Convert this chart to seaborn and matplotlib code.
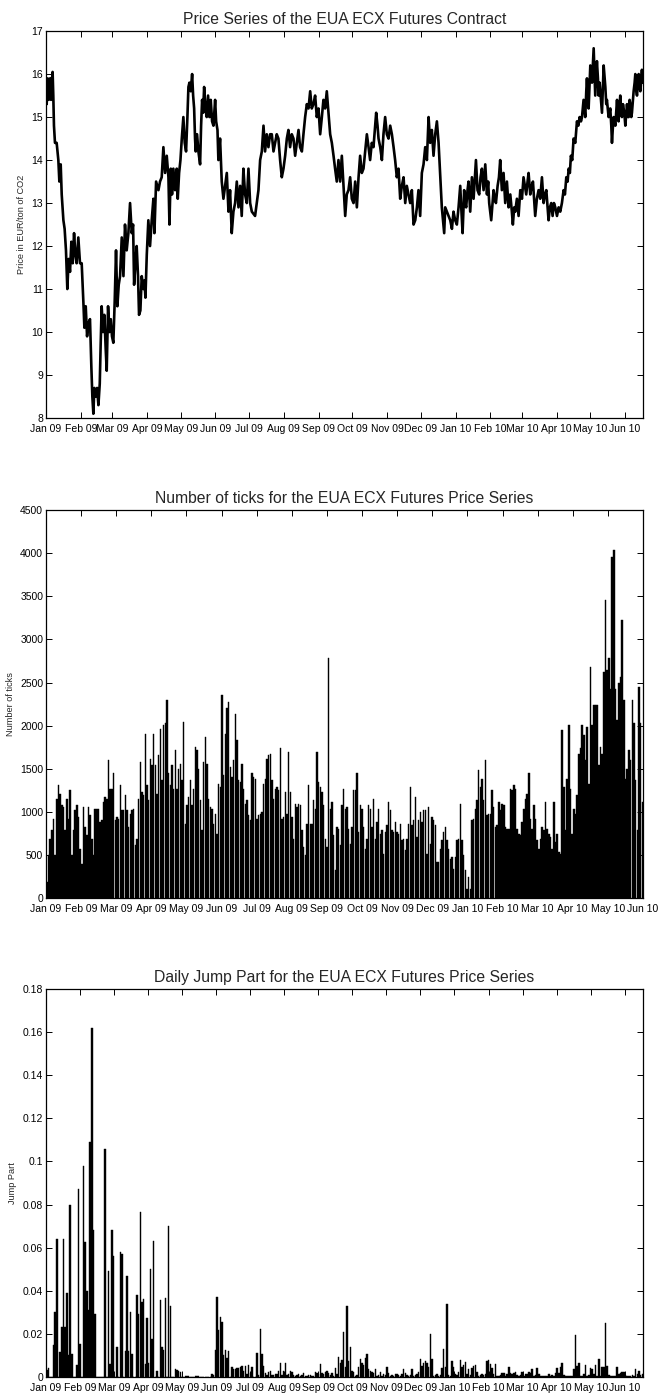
import numpy as np
import pandas as pd
import matplotlib
matplotlib.use("Agg")
import matplotlib.pyplot as plt
import seaborn as sns
from matplotlib.ticker import FormatStrFormatter

# ---------------- data ----------------
month_labels = ["Jan 09", "Feb 09", "Mar 09", "Apr 09", "May 09", "Jun 09", "Jul 09",
                "Aug 09", "Sep 09", "Oct 09", "Nov 09", "Dec 09", "Jan 10", "Feb 10",
                "Mar 10", "Apr 10", "May 10", "Jun 10"]

# price series: days since 2009-01-01 and price in EUR/ton
price_day = [0.5, 0.6, 1.5, 2.4, 3.6, 4.5, 5.4, 5.9, 6.5, 7.1, 8.0, 9.5, 11.0, 11.9, 13.1, 14.0,
             15.5, 16.6, 17.8, 19.0, 20.2, 21.4, 22.6, 23.8, 25.0, 26.2, 27.3, 28.8, 30.3, 31.8,
             33.3, 34.2, 35.4, 36.6, 37.7, 39.2, 40.4, 41.3, 42.2, 43.1, 44.3, 45.5, 46.7, 47.9,
             48.7, 49.6, 50.8, 52.0, 53.2, 54.1, 55.3, 56.5, 57.7, 58.8, 60.0, 61.2, 62.4, 63.6,
             64.8, 66.0, 67.5, 69.0, 70.4, 71.9, 73.4, 74.9, 76.4, 77.6, 78.5, 79.7, 80.8, 82.0,
             82.9, 84.1, 85.3, 86.8, 87.7, 88.6, 89.8, 91.2, 92.7, 94.2, 95.7, 96.6, 98.1, 100.2,
             101.6, 103.1, 104.6, 106.1, 107.6, 109.1, 110.0, 111.2, 112.3, 113.5, 115.0, 116.5,
             117.4, 118.6, 119.8, 121.0, 122.4, 123.6, 124.8, 126.0, 126.9, 127.8, 129.0, 130.2,
             131.1, 132.0, 132.8, 133.4, 134.6, 135.8, 137.3, 138.2, 139.1, 140.0, 140.9, 142.1,
             143.2, 144.4, 145.6, 146.8, 148.0, 149.2, 150.7, 151.6, 152.8, 153.6, 155.1, 156.6,
             158.1, 159.6, 161.1, 162.6, 164.0, 165.5, 167.0, 168.5, 170.0, 171.5, 173.0, 174.4,
             175.9, 177.4, 178.9, 180.4, 181.9,
             183.4, 186.3, 187.8, 189.3, 190.8, 192.3, 193.8, 195.2, 196.7, 198.2, 199.7, 201.2,
             202.7, 204.2, 205.6, 207.1, 208.6, 210.1, 211.6, 213.1, 214.6, 216.0, 217.5, 219.0,
             220.5, 222.0, 223.5, 225.0, 226.4, 228.0, 229.4, 230.9, 232.4, 233.9, 235.4, 236.8,
             238.3, 239.8, 241.3, 242.8, 244.3, 245.8, 247.2, 248.7, 250.2, 251.7, 253.2, 254.7,
             256.2, 257.6, 259.1, 260.6, 262.1, 263.6, 265.1, 266.6, 268.0, 269.5, 271.0, 272.5,
             274.0, 275.5, 277.0, 278.5, 279.9, 281.4, 282.9, 284.4, 285.9, 287.4, 288.8, 290.3,
             291.8, 293.3, 294.2, 295.4, 296.3, 297.8, 299.3, 300.7, 302.2, 303.7, 305.2, 306.7,
             308.2, 309.7, 311.1, 312.6, 314.1, 315.6, 317.1, 318.6, 320.1, 321.5, 323.0, 324.5,
             326.0, 327.5, 329.0, 330.5, 331.9, 333.4, 334.9, 336.4, 337.9, 339.4, 340.9, 342.3,
             343.8, 345.3, 346.8, 348.3, 349.8, 351.3, 352.7, 354.8,
             355.7, 357.2, 358.7, 360.2, 361.7, 363.1, 364.6, 366.1, 367.6, 369.1, 370.0, 371.2,
             372.6, 373.5, 374.4, 375.6, 376.5, 378.0, 379.5, 381.0, 382.2, 383.1, 384.5, 386.0,
             387.2, 388.4, 389.9, 391.4, 392.9, 394.0, 394.9, 396.7, 397.9, 398.8, 400.0, 400.9,
             402.4, 403.6, 404.7, 406.2, 407.7, 409.2, 410.7, 412.2, 413.7, 415.1, 416.0, 417.2,
             418.1, 419.6, 421.1, 422.6, 424.1, 425.5, 426.7, 427.9, 429.1, 430.0, 431.5, 432.7,
             433.9, 435.1, 435.9, 437.4, 438.9, 440.4, 441.9, 443.4, 444.6, 445.8, 446.9, 447.8,
             449.0, 450.2, 451.4, 452.6, 453.8, 455.3, 456.8, 458.2, 459.7, 461.2, 462.4, 463.6,
             464.8, 465.7, 466.8, 467.7, 468.9, 470.1, 471.6, 473.1, 474.3, 475.5, 476.7, 477.6,
             479.0, 480.5, 481.4, 482.0, 482.9, 483.5, 484.4, 485.0, 485.9, 486.5, 487.4, 488.0,
             488.8, 489.4, 490.3, 490.9, 491.8, 492.4, 493.3, 493.9, 494.8, 495.4, 496.3, 496.9,
             497.8, 498.4, 499.2, 499.8, 501.3, 502.8, 503.7, 504.3, 505.2, 505.8, 507.3, 508.8,
             509.6, 510.2, 511.1, 511.7, 512.6, 513.2, 514.1, 514.7, 515.6, 516.2, 517.1, 517.7,
             518.6, 519.2, 520.0, 520.6, 521.5, 522.1, 523.0, 523.6, 524.5, 525.1, 526.0, 526.6,
             527.5, 528.1, 528.9, 529.6, 530.4, 531.0, 531.6]
price_eur = [15.8, 15.3, 15.9, 15.4, 15.9, 15.4, 15.9, 16.05, 15.5, 14.8, 14.4, 14.4, 14.0, 13.5, 13.9, 13.2,
             12.6, 12.4, 11.9, 11.0, 11.7, 11.4, 12.1, 11.6, 12.3, 11.8, 11.6, 12.2, 11.6, 11.6,
             10.7, 10.1, 10.6, 9.9, 10.2, 10.3, 9.2, 8.5, 8.1, 8.7, 8.5, 8.7, 8.3, 8.8,
             9.7, 10.6, 10.0, 10.4, 9.6, 9.1, 10.6, 10.0, 10.3, 9.9, 9.75, 10.7, 11.9, 10.6,
             11.1, 11.3, 12.2, 11.3, 12.5, 11.9, 12.3, 13.0, 12.3, 12.5, 11.1, 11.6, 12.0, 11.3,
             10.4, 10.5, 11.3, 11.0, 11.2, 10.8, 11.8, 12.6, 12.0, 12.6, 13.1, 12.3, 13.5, 13.3,
             13.5, 13.6, 14.3, 13.7, 14.1, 13.6, 12.5, 13.8, 13.2, 13.8, 13.3, 13.8,
             13.1, 13.7, 14.0, 14.5, 15.0, 14.4, 14.2, 15.0, 15.7, 15.8, 15.6, 16.0,
             15.5, 15.2, 14.5, 14.2, 14.6, 14.2, 13.9, 14.8, 15.4, 15.1, 15.7, 15.2,
             15.0, 15.5, 15.0, 15.4, 14.9, 14.8, 15.4, 14.9, 14.7, 14.0, 14.5, 13.5,
             13.1, 13.4, 13.7, 12.8, 13.3, 12.3, 12.8, 13.0, 13.5, 12.9, 13.4, 12.7,
             13.8, 13.2, 13.0, 13.8, 13.0,
             12.8, 12.7, 13.0, 13.3, 14.0, 14.2, 14.8, 14.2, 14.6, 14.3, 14.6, 14.6,
             14.2, 14.4, 14.6, 14.5, 14.0, 13.6, 13.8, 14.1, 14.5, 14.7, 14.3, 14.6,
             14.5, 14.1, 14.4, 14.7, 14.3, 14.2, 14.6, 15.0, 15.3, 15.2, 15.6, 15.2,
             15.3, 15.5, 15.0, 15.2, 14.6, 15.0, 15.4, 15.2, 15.6, 15.1, 14.6, 14.4,
             14.1, 13.8, 13.5, 14.0, 13.5, 14.1, 13.4, 12.7, 13.2, 13.3, 13.6, 13.1,
             13.0, 13.5, 12.9, 13.6, 14.1, 13.7, 13.8, 14.2, 14.6, 14.3, 14.0, 14.4,
             14.3, 14.8, 15.1, 14.8, 14.5, 14.3, 14.0, 14.6, 15.0, 14.6, 14.5, 14.8,
             14.6, 14.3, 14.0, 13.6, 13.8, 13.1, 13.4, 13.6, 13.0, 13.4, 13.2, 13.0,
             13.3, 12.5, 12.6, 12.9, 13.3, 12.7, 13.7, 13.9, 14.3, 14.0, 15.0, 14.4,
             14.7, 14.1, 14.6, 14.9, 14.4, 13.6, 12.9, 12.3,
             12.9, 12.8, 12.7, 12.6, 12.4, 12.8, 12.6, 12.5, 12.9, 13.4, 12.9, 12.3,
             13.3, 13.0, 12.9, 13.3, 13.5, 12.8, 13.6, 13.1, 13.6, 14.0, 13.3, 13.2,
             13.6, 13.8, 13.3, 13.9, 13.2, 13.5, 13.0, 12.6, 13.0, 13.3, 13.1, 13.0,
             13.4, 13.6, 14.0, 13.3, 13.7, 13.0, 13.5, 12.9, 13.2, 12.8, 12.5, 12.9,
             12.8, 13.1, 12.7, 13.3, 13.1, 13.6, 13.4, 13.2, 13.5, 13.7, 13.2, 13.4,
             13.5, 13.0, 12.7, 13.1, 13.3, 13.1, 13.6, 13.0, 13.2, 13.3, 12.9, 12.6,
             12.9, 13.0, 12.7, 13.0, 12.9, 12.7, 12.9, 12.8, 13.0, 13.3, 13.2, 13.6,
             13.5, 13.8, 13.7, 14.1, 14.0, 14.5, 14.4, 14.9, 14.8, 15.0, 14.9, 15.0,
             15.4, 15.0, 15.6, 15.9, 15.4, 15.2, 15.8, 16.2, 16.0, 15.8, 16.3, 16.6,
             16.0, 15.5, 16.0, 16.3, 15.9, 15.5, 15.8, 15.6, 15.3, 15.1, 15.8, 16.2,
             15.9, 15.7, 15.3, 15.4, 15.0, 15.2, 14.8, 14.4, 14.8, 15.0, 14.8, 15.4,
             15.0, 14.9, 15.3, 15.5, 15.1, 15.0, 15.3, 15.2, 15.0, 14.8, 15.1, 15.3,
             15.0, 15.0, 15.4, 15.3, 15.0, 15.1, 15.4, 15.6, 15.8, 16.0, 15.6, 15.5,
             15.8, 16.0, 15.7, 15.6, 15.9, 16.1, 15.8]

# number of ticks per trading day
n_ticks = [185, 495, 690, 785, 920, 495, 1150, 1310, 1210, 1075,
           1055, 785, 1150, 920, 1250, 495, 785, 1020, 1075, 940,
           570, 400, 1055, 825, 730, 1055, 960, 690, 495, 1035,
           1035, 1035, 880, 900, 1115, 1170, 1150, 1605, 1270, 1270,
           1445, 900, 940, 920, 1310, 1020, 1020, 1190, 1020, 825,
           980, 1020, 1035, 610, 690, 1150, 1580, 1230, 1190, 1905,
           1310, 1135, 1615, 1540, 1905, 1540, 1210, 1655, 1965, 1365,
           2005, 2025, 2300, 1445, 1310, 1540, 1270, 1715, 1270, 1500,
           1560, 1365, 2045, 860, 1075, 1170, 1365, 1075, 1270, 1750,
           1720, 1500, 1135, 785, 1580, 1870, 1560, 1150, 1055, 1035,
           860, 980, 745, 1325, 1290, 2350, 1425, 1905, 2210, 2275,
           1520, 1405, 1600, 2140, 1830, 1365, 1345, 1560, 1270, 1095,
           1135, 960, 900, 1445, 1405, 1385, 920, 960, 980, 1000,
           1325, 1385, 1615, 1655, 1675, 1365, 1150, 1270, 1290, 1250,
           1735, 920, 940, 1230, 980, 1695, 1230, 940, 690, 1095,
           1055, 1095, 1075, 785, 590, 495, 860, 1310, 860, 860,
           1135, 1035, 1695, 1345, 1290, 1230, 1075, 690, 590, 2790,
           1035, 1115, 730, 320, 825, 805, 610, 1075, 1270, 1035,
           1055, 805, 630, 825, 1250, 1250, 1445, 765, 1075, 1035,
           825, 570, 690, 1075, 1035, 825, 1150, 690, 880, 1035,
           745, 785, 515, 765, 845, 1115, 1020, 785, 765, 880,
           765, 745, 860, 670, 690, 555, 690, 860, 1290, 845,
           900, 1170, 710, 900, 1000, 880, 1020, 1020, 515, 1055,
           630, 940, 900, 845, 420, 420, 570, 670, 765, 825,
           670, 570, 455, 475, 340, 475, 670, 690, 1095, 670,
           495, 320, 110, 245, 110, 900, 920, 1035, 1135, 1480,
           1290, 1385, 1135, 1600, 960, 980, 980, 1250, 1055, 825,
           845, 1115, 1020, 1095, 1075, 825, 805, 805, 1270, 1250,
           1310, 1270, 805, 745, 730, 880, 1035, 1150, 1210, 1445,
           920, 805, 1075, 920, 670, 570, 690, 825, 785, 1115,
           805, 745, 710, 570, 1115, 650, 745, 535, 515, 1945,
           1290, 785, 1385, 2005, 1270, 745, 1035, 980, 1190, 1675,
           1735, 2005, 1890, 1600, 1985, 1325, 2680, 2005, 2235, 2235,
           2235, 1540, 1750, 1675, 2625, 3455, 2640, 2780, 2430, 3960,
           4035, 2430, 2060, 2490, 2565, 3225, 2295, 1385, 1500, 1715,
           1600, 2295, 2025, 1365, 785, 2450, 2025, 1115]

# daily jump part
jump_part = [0.0034, 0.004, 0, 0, 0.015, 0.030, 0.064, 0, 0.0115, 0.023,
             0.064, 0.023, 0.039, 0.010, 0.080, 0.0105, 0, 0, 0.0055, 0.087,
             0.0155, 0, 0.098, 0.0625, 0.040, 0.031, 0.109, 0.162, 0.068, 0.029,
             0, 0, 0, 0, 0, 0.106, 0, 0.049, 0.006, 0.068,
             0.056, 0, 0.014, 0, 0.058, 0.057, 0, 0.012, 0.047, 0.012,
             0.030, 0.0105, 0, 0, 0.038, 0.029, 0.0765, 0.035, 0.036, 0.006,
             0.0275, 0.0065, 0.050, 0.0175, 0.063, 0, 0.003, 0, 0.0355, 0.014,
             0.0125, 0.0365, 0, 0.070, 0.033, 0, 0, 0.0035, 0.0032, 0.003,
             0.0025, 0, 0, 0.0003, 0.0004, 0.0003, 0.0001, 0.0001, 0.0001, 0.0004,
             0.0003, 0.0004, 0.0002, 0.0001, 0.0001, 0.0001, 0.0001, 0.0001, 0.0001, 0.0015,
             0.001, 0.0125, 0.037, 0.022, 0.028, 0.0255, 0.010, 0.0125, 0.009, 0.012,
             0, 0.0045, 0.0038, 0.0035, 0.004, 0.004, 0.0045, 0.005, 0.003, 0.005,
             0.0015, 0.0055, 0.002, 0.0045, 0, 0, 0.011, 0.001, 0.0225, 0.0105,
             0.005, 0.002, 0.001, 0.0025, 0.003, 0.001, 0.001, 0.0015, 0.0015, 0.003,
             0.0065, 0.001, 0.003, 0.0065, 0.001, 0.0015, 0.003, 0.0025, 0.001, 0.0005,
             0.001, 0.0015, 0.0005, 0.001, 0.002, 0.0005, 0.0005, 0.001, 0.001, 0.0005,
             0.0005, 0.0025, 0.002, 0.0015, 0.006, 0.002, 0.0015, 0.0025, 0.003, 0.002,
             0.001, 0.002, 0.0005, 0.004, 0.0015, 0.0095, 0.0065, 0.008, 0.021, 0.0045,
             0.033, 0.0075, 0.014, 0.003, 0.0025, 0.0005, 0.001, 0.0045, 0.0085, 0.0065,
             0.0055, 0.009, 0.0105, 0.0035, 0.003, 0.0025, 0.002, 0.0035, 0.0005, 0.001,
             0.0025, 0.0005, 0.0015, 0.001, 0.0045, 0.002, 0.0005, 0.001, 0.0005, 0.0015,
             0.0015, 0.001, 0.0005, 0.0015, 0.0035, 0.002, 0.001, 0.0005, 0.001, 0.0035,
             0.0005, 0.001, 0.0015, 0.0025, 0.0085, 0.005, 0.0065, 0.0075, 0.0065, 0.0045,
             0.020, 0.0085, 0.0005, 0.001, 0.0015, 0.0005, 0.001, 0.004, 0.013, 0.0045,
             0.034, 0.001, 0.0005, 0.0075, 0.0045, 0.0015, 0.001, 0.0025, 0.008, 0.0045,
             0.0055, 0.007, 0.0015, 0.0035, 0.001, 0.004, 0.005, 0.0055, 0.0025, 0.0005,
             0.001, 0.0015, 0.001, 0.0015, 0.0075, 0.008, 0.006, 0.004, 0.0015, 0.006,
             0.0005, 0.0005, 0.001, 0.002, 0.002, 0.0005, 0.0015, 0.0045, 0.002, 0.0015,
             0.002, 0.0025, 0.001, 0.0005, 0.001, 0.0025, 0.0005, 0.0015, 0.0015, 0.0025,
             0.002, 0.0035, 0.0005, 0.001, 0.004, 0.0015, 0.0005, 0.0005, 0.0005, 0.0005,
             0.0005, 0.0015, 0.0005, 0.001, 0.0005, 0.002, 0.004, 0.002, 0.0045, 0.0065,
             0.001, 0.0005, 0.0005, 0.0005, 0.0005, 0.0005, 0.0035, 0.0195, 0.005, 0.0065,
             0.0005, 0.0005, 0.0015, 0.0055, 0.0005, 0.001, 0.004, 0.0035, 0.0015, 0.0055,
             0.0005, 0.0085, 0.0005, 0.0045, 0.0045, 0.025, 0.005, 0.001, 0.0005, 0.0005,
             0.0005, 0.0005, 0.0045, 0.0015, 0.002, 0.0025, 0.0025, 0.001, 0.0005, 0.0005,
             0.0005, 0.001, 0.0005, 0.0035, 0.0015, 0.003, 0.001, 0.0015]

# ---------------- style ----------------
sns.set_theme(style="ticks")
plt.rcParams["font.family"] = ["Liberation Sans", "DejaVu Sans"]
plt.rcParams["axes.linewidth"] = 0.9
plt.rcParams["xtick.direction"] = "in"
plt.rcParams["ytick.direction"] = "in"

FS_TICK = 7.5
FS_TITLE = 11.3
FS_LABEL = 6.6

fig = plt.figure(figsize=(6.59, 13.93), dpi=100)
ax1 = fig.add_axes([0.0698, 0.6999, 0.9060, 0.2778])
ax2 = fig.add_axes([0.0698, 0.3553, 0.9060, 0.2785])
ax3 = fig.add_axes([0.0698, 0.01149, 0.9060, 0.2785])


def style_axis(ax):
    for s in ax.spines.values():
        s.set_visible(True)
        s.set_color("black")
        s.set_linewidth(0.9)
    ax.tick_params(axis="both", which="major", direction="in", top=True, right=True,
                   length=4, width=0.7, labelsize=FS_TICK, colors="black")
    ax.tick_params(axis="x", pad=4)
    ax.tick_params(axis="y", pad=2)
    ax.set_facecolor("white")


# ---- Panel 1: price series ----
df_price = pd.DataFrame({"day": price_day, "price": price_eur})
sns.lineplot(data=df_price, x="day", y="price", ax=ax1, color="black",
             linewidth=1.9, sort=False)
month_starts = pd.date_range("2009-01-01", periods=len(month_labels), freq="MS")
month_days = [(d - pd.Timestamp("2009-01-01")).days for d in month_starts]
ax1.set_xlim(0, 532)
ax1.set_ylim(8, 17)
ax1.set_xticks(month_days)
ax1.set_xticklabels(month_labels)
ax1.set_yticks(range(8, 18))
ax1.set_xlabel("")
ax1.set_ylabel("Price in EUR/ton of CO2", fontsize=FS_LABEL, labelpad=4)
ax1.set_title("Price Series of the EUA ECX Futures Contract", fontsize=FS_TITLE, pad=5)
style_axis(ax1)

# ---- Panel 2: number of ticks ----
n2 = len(n_ticks)
df_ticks = pd.DataFrame({"idx": np.arange(1, n2 + 1), "ticks": n_ticks})
sns.barplot(data=df_ticks, x="idx", y="ticks", ax=ax2, native_scale=True,
            color="black", width=0.85, edgecolor="black", linewidth=0.3,
            errorbar=None, saturation=1)
ax2.set_xlim(0.5, n2 + 0.5)
ax2.set_ylim(0, 4500)
ax2.set_xticks(np.linspace(0.5, n2 + 0.5, len(month_labels)))
ax2.set_xticklabels(month_labels)
ax2.set_yticks(range(0, 4501, 500))
ax2.set_xlabel("")
ax2.set_ylabel("Number of ticks", fontsize=FS_LABEL, labelpad=4)
ax2.set_title("Number of ticks for the EUA ECX Futures Price Series", fontsize=FS_TITLE, pad=5)
style_axis(ax2)

# ---- Panel 3: jump part ----
n3 = len(jump_part)
df_jump = pd.DataFrame({"idx": np.arange(1, n3 + 1), "jump": jump_part})
sns.barplot(data=df_jump, x="idx", y="jump", ax=ax3, native_scale=True,
            color="black", width=0.85, edgecolor="black", linewidth=0.3,
            errorbar=None, saturation=1)
ax3.set_xlim(0.5, n3 + 0.5)
ax3.set_ylim(0, 0.18)
step3 = n3 / 17.54
ax3.set_xticks([0.5 + k * step3 for k in range(len(month_labels))])
ax3.set_xticklabels(month_labels)
ax3.set_yticks(np.arange(0, 0.181, 0.02))
ax3.yaxis.set_major_formatter(FormatStrFormatter("%g"))
ax3.set_xlabel("")
ax3.set_ylabel("Jump Part", fontsize=FS_LABEL, labelpad=4)
ax3.set_title("Daily Jump Part for the EUA ECX Futures Price Series", fontsize=FS_TITLE, pad=5)
style_axis(ax3)

fig.savefig("out.png", dpi=100, facecolor="white")
